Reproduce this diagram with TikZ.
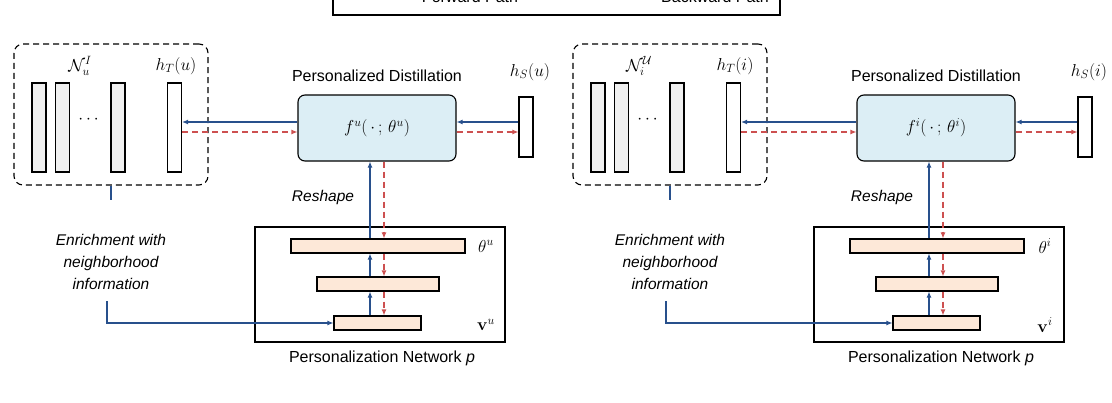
\documentclass[tikz,border=0pt]{standalone}
\usepackage{amsmath}
\usepackage[no-math]{fontspec}
\setmainfont{Liberation Sans}
\usetikzlibrary{arrows.meta}
\definecolor{fblue}{RGB}{40,80,140}
\definecolor{bred}{RGB}{205,80,80}
\definecolor{dfill}{RGB}{220,238,245}
\definecolor{lfill}{RGB}{253,232,216}
\definecolor{bfill}{RGB}{240,240,240}
\tikzset{
  fwd/.style={fblue,line width=1.1pt,-{Latex[length=6pt,width=5pt]}},
  bwd/.style={bred,line width=1.1pt,dash pattern=on 6pt off 4pt,-{Latex[length=6pt,width=5pt]}},
  bar/.style={draw,line width=1.1pt,fill=bfill,minimum width=14pt,minimum height=89pt,inner sep=0pt},
  wbar/.style={bar,fill=white},
  layer/.style={draw,line width=1.1pt,fill=lfill,minimum height=14pt,inner sep=0pt},
  distbox/.style={draw,line width=1.1pt,fill=dfill,rounded corners=7pt,minimum width=158pt,minimum height=66pt,inner sep=0pt},
  lbl/.style={font=\fontsize{16}{18}\selectfont,inner sep=0pt},
  mlbl/.style={font=\LARGE,inner sep=0pt},
  ilbl/.style={font=\fontsize{15.5}{22}\selectfont\itshape,inner sep=0pt,align=center},
}
\newcommand\mypanel[6]{%
  \node[draw,line width=1.1pt,dashed,dash pattern=on 6pt off 4pt,rounded corners=9pt,minimum width=194pt,minimum height=141pt] (grp) at (111,114.5) {};
  \node[bar] (b1) at (39,127.5) {};
  \node[bar] (b2) at (62.5,127.5) {};
  \node[bar] (b3) at (118,127.5) {};
  \node[wbar] (ht) at (174.5,127.5) {};
  \node[mlbl] (dots) at (90,120) {$\cdots$};
  \node[mlbl] (nl) at (80,66) {#1};
  \node[mlbl] (htl) at (176,66) {#2};
  \node[distbox] (dist) at (377,128) {};
  \node[mlbl] (fl) at (377,128) {#3};
  \node[lbl] (dt) at (377,76) {Personalized Distillation};
  \node[wbar,minimum height=60pt] (hs) at (526,127) {};
  \node[mlbl] (hsl) at (530,72) {#4};
  \node[draw,line width=1.1pt,minimum width=250pt,minimum height=115pt,inner sep=0pt] (net) at (380,284.5) {};
  \node[layer,minimum width=174pt] (l1) at (378,246) {};
  \node[layer,minimum width=122pt] (l2) at (378,284) {};
  \node[layer,minimum width=87pt] (l3) at (377.5,323) {};
  \node[mlbl] (thl) at (486,246) {#5};
  \node[mlbl] (vl) at (486,325) {#6};
  \node[lbl] (pn) at (382,358) {Personalization Network \textit{p}};
  \node[ilbl] (rs) at (323,197) {Reshape};
  \node[ilbl] (en) at (111,262) {Enrichment with\\neighborhood\\information};
  \coordinate (bx) at (370,0);
  \coordinate (rx) at (384,0);
  \coordinate (ab) at (0,122);
  \coordinate (ar) at (0,132);
  \draw[fwd] (dist.west |- ab) -- (ht.east |- ab);
  \draw[bwd] (ht.east |- ar) -- (dist.west |- ar);
  \draw[fwd] (hs.west |- ab) -- (dist.east |- ab);
  \draw[bwd] (dist.east |- ar) -- (hs.west |- ar);
  \draw[fwd] (l1.north -| bx) -- (dist.south -| bx);
  \draw[bwd] (dist.south -| rx) -- (l1.north -| rx);
  \draw[fwd] (l2.north -| bx) -- (l1.south -| bx);
  \draw[bwd] (l1.south -| rx) -- (l2.north -| rx);
  \draw[fwd] (l3.north -| bx) -- (l2.south -| bx);
  \draw[bwd] (l2.south -| rx) -- (l3.north -| rx);
  \coordinate (st) at (111,200);
  \draw[fblue,line width=1.1pt] (grp.south -| st) -- (st);
  \coordinate (cs) at (107,301);
  \draw[fwd] (cs) |- (l3.west);
}
\begin{document}
\begin{tikzpicture}[x=1pt,y=-1pt]
\useasboundingbox (0,0) rectangle (1112,402);
\node[draw,line width=1.1pt,minimum width=447pt,minimum height=40pt,inner sep=0pt] (legend) at (556.5,-5) {};
\node[lbl,anchor=base] (fp) at (470,2) {Forward Path};
\node[lbl,anchor=base] (bp) at (715,2) {Backward Path};
\begin{scope}[name prefix=L-]
\mypanel{$\mathcal{N}_u^{I}$}{$h_T(u)$}{$f^u(\,\cdot\,;\,\theta^u)$}{$h_S(u)$}{$\theta^u$}{$\mathbf{v}^u$}
\end{scope}
\begin{scope}[shift={(559,0)},name prefix=R-]
\mypanel{$\mathcal{N}_i^{\mathcal{U}}$}{$h_T(i)$}{$f^i(\,\cdot\,;\,\theta^i)$}{$h_S(i)$}{$\theta^i$}{$\mathbf{v}^i$}
\end{scope}
\end{tikzpicture}
\end{document}
